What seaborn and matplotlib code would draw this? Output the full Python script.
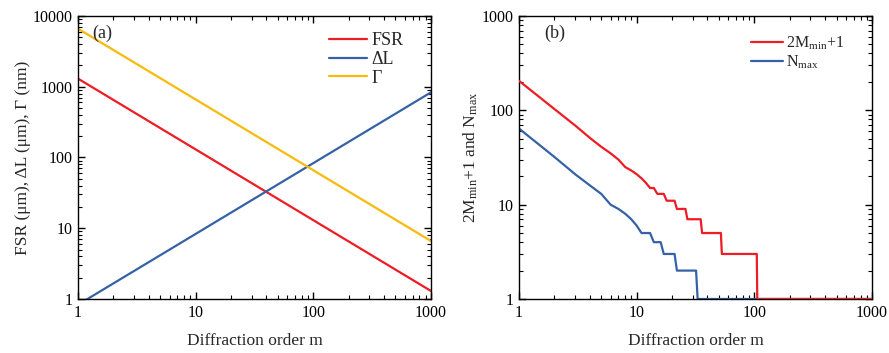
import numpy as np
import pandas as pd
import matplotlib
matplotlib.use("Agg")
import matplotlib.pyplot as plt
import seaborn as sns
from matplotlib.ticker import LogLocator, NullFormatter, FixedLocator, FixedFormatter

# ---------------- data ----------------
m_a = [1, 1000]
fsr = [1300, 1.3]
delta_L = [0.83, 830]
gamma = [6600, 6.6]

# Panel (b): step-like curves
m_red = [1, 2, 3, 4, 5, 6, 7, 8, 9, 10, 11, 12, 13, 14, 15, 16, 17, 18, 19, 20, 21,
         22, 26, 27, 35, 36, 52, 53, 105, 106, 1000]
red_vals = [205, 103, 69, 51, 41, 35, 30, 25, 23, 21, 19, 17, 15, 15, 13, 13, 13, 11, 11, 11, 11,
            9, 9, 7, 7, 5, 5, 3, 3, 1, 1]
m_blue = [1, 2, 3, 4, 5, 6, 7, 8, 9, 10, 11, 13, 14, 16, 17, 21, 22, 32, 33, 1000]
blue_vals = [64, 32, 21, 16, 13, 10, 9, 8, 7, 6, 5, 5, 4, 4, 3, 3, 2, 2, 1, 1]

labels_a = ["FSR", "\u0394L", "\u0393"]
labels_b = [r"2M$_{\rm min}$+1", r"N$_{\rm max}$"]

RED = "#EE1C24"
BLUE = "#3562A6"
YELLOW = "#F8BA0C"

# ---------------- style ----------------
sns.set_style("ticks")
plt.rcParams["font.family"] = ["Liberation Serif", "DejaVu Serif"]
plt.rcParams["mathtext.fontset"] = "custom"
plt.rcParams["mathtext.rm"] = "Liberation Serif"
plt.rcParams["mathtext.it"] = "Liberation Serif:italic"
plt.rcParams["axes.edgecolor"] = "black"
plt.rcParams["axes.linewidth"] = 1.0

fig = plt.figure(figsize=(8.89, 3.53), dpi=100)
ax1 = fig.add_axes([0.0877, 0.153, 0.397, 0.802])
ax2 = fig.add_axes([0.5838, 0.153, 0.397, 0.802])

df_a = pd.DataFrame({
    "m": m_a * 3,
    "v": fsr + delta_L + gamma,
    "s": [labels_a[0]] * 2 + [labels_a[1]] * 2 + [labels_a[2]] * 2,
})
sns.lineplot(data=df_a, x="m", y="v", hue="s", hue_order=labels_a,
             palette=[RED, BLUE, YELLOW], linewidth=1.6, ax=ax1, sort=False)

df_b_blue = pd.DataFrame({"m": m_blue, "v": blue_vals})
df_b_red = pd.DataFrame({"m": m_red, "v": red_vals})
sns.lineplot(data=df_b_red, x="m", y="v", color=RED, linewidth=1.6, ax=ax2,
             sort=False, label=labels_b[0], zorder=4)
sns.lineplot(data=df_b_blue, x="m", y="v", color=BLUE, linewidth=1.6, ax=ax2,
             sort=False, label=labels_b[1], zorder=2)

for ax, ymax in [(ax1, 10000), (ax2, 1000)]:
    ax.set_xscale("log")
    ax.set_yscale("log")
    ax.set_xlim(1, 1000)
    ax.set_ylim(1, ymax)
    ax.xaxis.set_major_locator(FixedLocator([1, 10, 100, 1000]))
    ax.xaxis.set_major_formatter(FixedFormatter(["1", "10", "100", "1000"]))
    yt = [1, 10, 100, 1000, 10000] if ymax == 10000 else [1, 10, 100, 1000]
    ax.yaxis.set_major_locator(FixedLocator(yt))
    ax.yaxis.set_major_formatter(FixedFormatter([str(t) for t in yt]))
    ax.xaxis.set_minor_locator(LogLocator(base=10, subs=np.arange(2, 10), numticks=20))
    ax.yaxis.set_minor_locator(LogLocator(base=10, subs=np.arange(2, 10), numticks=20))
    ax.xaxis.set_minor_formatter(NullFormatter())
    ax.yaxis.set_minor_formatter(NullFormatter())
    ax.tick_params(which="both", direction="in", top=True, right=True, colors="black")
    ax.tick_params(which="major", length=5, width=1, labelsize=11.5, pad=4)
    ax.tick_params(which="minor", length=3, width=0.8)
    for sp in ax.spines.values():
        sp.set_visible(True)
        sp.set_color("black")
        sp.set_zorder(3)
    ax.set_xlabel("Diffraction order m", fontsize=12.5, labelpad=9)

ax1.set_ylabel("FSR (\u03bcm), \u0394L (\u03bcm), \u0393 (nm)", fontsize=12.5, labelpad=1)
ax2.set_ylabel(r"2M$_{\rm min}$+1 and N$_{\rm max}$", fontsize=12.5, labelpad=1)

ax1.text(0.07, 0.94, "(a)", transform=ax1.transAxes, fontsize=13, ha="center", va="center")
ax2.text(0.10, 0.94, "(b)", transform=ax2.transAxes, fontsize=13, ha="center", va="center")

ax1.legend(loc="upper right", bbox_to_anchor=(0.969, 1.0), frameon=False, fontsize=13,
           handlelength=2.1, handletextpad=0.25, labelspacing=0.1, title=None)
ax2.legend(loc="upper right", bbox_to_anchor=(0.963, 0.985), frameon=False, fontsize=11.5,
           handlelength=2.0, handletextpad=0.2, labelspacing=0.12, title=None)

fig.savefig("out.png", dpi=100, facecolor="white")
